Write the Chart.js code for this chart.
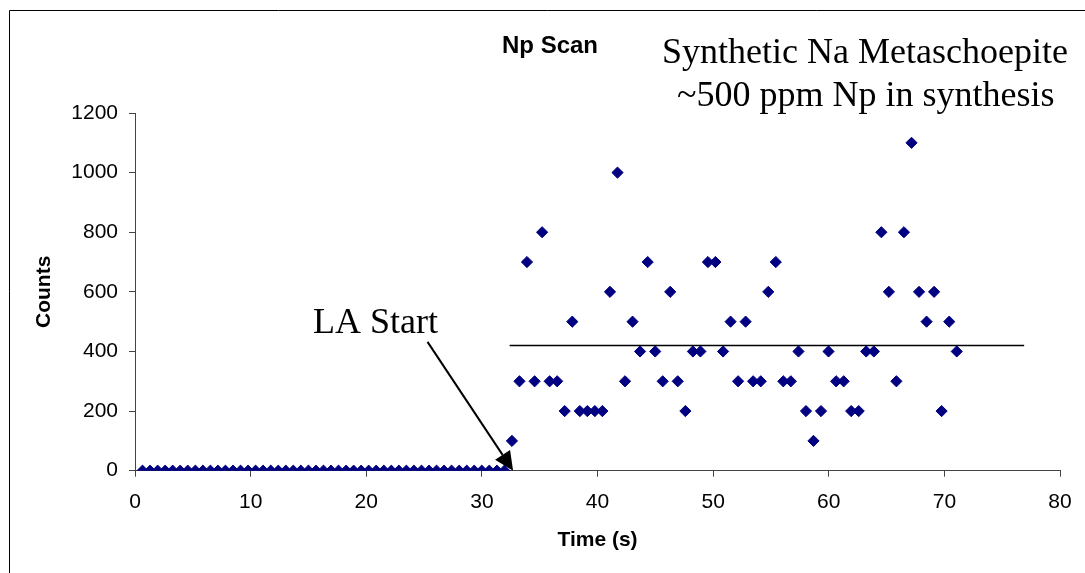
<!DOCTYPE html>
<html>
<head>
<meta charset="utf-8">
<script src="https://cdn.jsdelivr.net/npm/chart.js@4.4.0/dist/chart.umd.min.js"></script>
<style>
  html, body { margin: 0; padding: 0; background: #ffffff; }
  #wrap { position: relative; width: 1085px; height: 573px; }
</style>
</head>
<body>
<div id="wrap"><canvas id="chart"></canvas></div>
<script>
// ---- Data ----
const timeS = [
  0.65, 1.30, 1.96, 2.61, 3.26, 3.91, 4.56, 5.22, 5.87, 6.52,
  7.17, 7.82, 8.48, 9.13, 9.78, 10.43, 11.08, 11.74, 12.39, 13.04,
  13.69, 14.34, 15.00, 15.65, 16.30, 16.95, 17.60, 18.26, 18.91, 19.56,
  20.21, 20.86, 21.52, 22.17, 22.82, 23.47, 24.12, 24.78, 25.43, 26.08,
  26.73, 27.38, 28.04, 28.69, 29.34, 29.99, 30.64, 31.30, 31.95, 32.60,
  33.25, 33.90, 34.56, 35.21, 35.86, 36.51, 37.16, 37.82, 38.47, 39.12,
  39.77, 40.42, 41.08, 41.73, 42.38, 43.03, 43.68, 44.34, 44.99, 45.64,
  46.29, 46.94, 47.60, 48.25, 48.90, 49.55, 50.20, 50.86, 51.51, 52.16,
  52.81, 53.46, 54.12, 54.77, 55.42, 56.07, 56.72, 57.38, 58.03, 58.68,
  59.33, 59.98, 60.64, 61.29, 61.94, 62.59, 63.24, 63.90, 64.55, 65.20,
  65.85, 66.50, 67.16, 67.81, 68.46, 69.11, 69.76, 70.42, 71.07
];
const counts = [
  0, 0, 0, 0, 0, 0, 0, 0, 0, 0,
  0, 0, 0, 0, 0, 0, 0, 0, 0, 0,
  0, 0, 0, 0, 0, 0, 0, 0, 0, 0,
  0, 0, 0, 0, 0, 0, 0, 0, 0, 0,
  0, 0, 0, 0, 0, 0, 0, 0, 0, 100,
  300, 700, 300, 800, 300, 300, 200, 500, 200, 200,
  200, 200, 600, 1000, 300, 500, 400, 700, 400, 300,
  600, 300, 200, 400, 400, 700, 700, 400, 500, 300,
  500, 300, 300, 600, 700, 300, 300, 400, 200, 100,
  200, 400, 300, 300, 200, 200, 400, 400, 800, 600,
  300, 800, 1100, 600, 500, 600, 200, 500, 400
];
const meanLineTime = [32.4, 76.9];
const meanLineCounts = [420, 420];
const xTickValues = [0, 10, 20, 30, 40, 50, 60, 70, 80];
const yTickValues = [0, 200, 400, 600, 800, 1000, 1200];
const chartTitle = 'Np Scan';
const noteLines = ['Synthetic Na Metaschoepite', '~500 ppm Np in synthesis'];
const arrowLabel = 'LA Start';
const xTitle = 'Time (s)';
const yTitle = 'Counts';

// ---- Chart ----
const scanPoints = timeS.map((t, i) => ({ x: t, y: counts[i] }));
const meanPoints = meanLineTime.map((t, i) => ({ x: t, y: meanLineCounts[i] }));

const annotationPlugin = {
  id: 'annotations',
  afterDraw(chart) {
    const { ctx, scales: { x, y } } = chart;
    ctx.save();
    // outer frame (left and top edges visible)
    ctx.strokeStyle = '#000000';
    ctx.lineWidth = 1;
    ctx.beginPath();
    ctx.moveTo(9.5, chart.height);
    ctx.lineTo(9.5, 10.5);
    ctx.lineTo(chart.width, 10.5);
    ctx.stroke();

    // texts
    ctx.fillStyle = '#000000';
    ctx.textBaseline = 'alphabetic';
    ctx.textAlign = 'left';
    ctx.font = 'bold 24px "Liberation Sans", Arial, sans-serif';
    ctx.fillText(chartTitle, 502, 53);
    ctx.font = '36px "Liberation Serif", "Times New Roman", serif';
    ctx.fillText(noteLines[0], 662, 63);
    ctx.fillText(noteLines[1], 677, 106);
    ctx.fillText(arrowLabel, 313, 333);

    // arrow (data coordinates)
    const from = { t: 25.3, c: 432 };
    const to = { t: 32.7, c: 0 };
    const x0 = x.getPixelForValue(from.t), y0 = y.getPixelForValue(from.c);
    const x1 = x.getPixelForValue(to.t), y1 = y.getPixelForValue(to.c);
    const ang = Math.atan2(y1 - y0, x1 - x0);
    const headLen = 19, headHalf = 9;
    const bx = x1 - Math.cos(ang) * headLen, by = y1 - Math.sin(ang) * headLen;
    ctx.strokeStyle = '#000000';
    ctx.lineWidth = 2;
    ctx.beginPath();
    ctx.moveTo(x0, y0);
    ctx.lineTo(bx, by);
    ctx.stroke();
    ctx.beginPath();
    ctx.moveTo(x1, y1);
    ctx.lineTo(bx + Math.sin(ang) * headHalf, by - Math.cos(ang) * headHalf);
    ctx.lineTo(bx - Math.sin(ang) * headHalf, by + Math.cos(ang) * headHalf);
    ctx.closePath();
    ctx.fillStyle = '#000000';
    ctx.fill();
    ctx.restore();
  }
};

new Chart(document.getElementById('chart'), {
  type: 'scatter',
  data: {
    datasets: [
      {
        label: 'Np',
        data: scanPoints,
        pointStyle: 'rectRot',
        pointRadius: 5.6,
        pointBorderWidth: 1,
        backgroundColor: '#000080',
        borderColor: '#000080',
        order: 1
      },
      {
        label: 'Average',
        data: meanPoints,
        showLine: true,
        pointRadius: 0,
        borderColor: '#000000',
        borderWidth: 1.5,
        order: 2
      }
    ]
  },
  options: {
    responsive: true,
    maintainAspectRatio: false,
    animation: false,
    devicePixelRatio: 1,
    events: [],
    layout: { padding: { top: 113, right: 25, bottom: 0, left: 0 } },
    plugins: {
      legend: { display: false },
      tooltip: { enabled: false },
      title: { display: false }
    },
    scales: {
      x: {
        type: 'linear',
        min: 0,
        max: 80,
        afterBuildTicks(scale) { scale.ticks = xTickValues.map(v => ({ value: v })); },
        afterFit(scale) { scale.height = 102.3; },
        grid: { display: true, drawOnChartArea: false, drawTicks: true, tickLength: 6, tickColor: '#444444' },
        border: { display: true, color: '#444444', width: 1 },
        ticks: { color: '#000000', padding: 13, callback: v => String(v),
                 font: { family: '"Liberation Sans", Arial, sans-serif', size: 21 } },
        title: { display: true, text: xTitle, color: '#000000', padding: { top: 0, bottom: 20 },
                 font: { family: '"Liberation Sans", Arial, sans-serif', size: 21, weight: 'bold' } }
      },
      y: {
        type: 'linear',
        min: 0,
        max: 1200,
        afterBuildTicks(scale) { scale.ticks = yTickValues.map(v => ({ value: v })); },
        afterFit(scale) { scale.width = 135; },
        grid: { display: true, drawOnChartArea: false, drawTicks: true, tickLength: 6, tickColor: '#444444' },
        border: { display: true, color: '#444444', width: 1 },
        ticks: { color: '#000000', padding: 11, callback: v => String(v),
                 font: { family: '"Liberation Sans", Arial, sans-serif', size: 21 } },
        title: { display: true, text: yTitle, color: '#000000', padding: { top: 32, bottom: 0 },
                 font: { family: '"Liberation Sans", Arial, sans-serif', size: 21, weight: 'bold' } }
      }
    }
  },
  plugins: [annotationPlugin]
});
</script>
</body>
</html>
